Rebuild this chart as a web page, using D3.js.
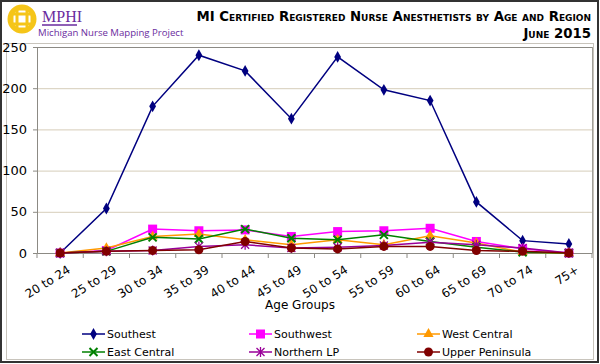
<!DOCTYPE html>
<html><head><meta charset="utf-8">
<script src="https://cdn.jsdelivr.net/npm/d3@7"></script>
<style>
body{margin:0;background:#fff;}
svg{display:block;font-family:Verdana,"DejaVu Sans",sans-serif;}
</style></head>
<body><svg id="c" width="600" height="364"></svg>
<script>
const categories = ["20 to 24","25 to 29","30 to 34","35 to 39","40 to 44","45 to 49","50 to 54","55 to 59","60 to 64","65 to 69","70 to 74","75+"];
const southest = [0,54,178,240,221,163,238,198,185,62,15,11];
const southwest = [0,3,29,27,28,20,26,27,30,14,5,0];
const westCentral = [0,6,20,23,16,10,16,10,21,12,1,0];
const eastCentral = [0,2,19,17,29,18,16,22,14,7,1,0];
const northernLP = [0,2,3,8,10,6,7,9,13,10,6,0];
const upperPeninsula = [0,2,3,4,14,6,5,8,8,3,2,0];
const yTicks = [0,50,100,150,200,250];
const seriesNames = ["Southest","Southwest","West Central","East Central","Northern LP","Upper Peninsula"];

const series = [
  {name:seriesNames[0], values:southest, color:"#000080", sym:"diamond"},
  {name:seriesNames[1], values:southwest, color:"#ff00ff", sym:"square"},
  {name:seriesNames[2], values:westCentral, color:"#ff9900", sym:"triangle"},
  {name:seriesNames[3], values:eastCentral, color:"#008000", sym:"x"},
  {name:seriesNames[4], values:northernLP, color:"#990099", sym:"star"},
  {name:seriesNames[5], values:upperPeninsula, color:"#800000", sym:"circle"}
];

const svg = d3.select("#c");
svg.append("rect").attr("x",1).attr("y",1).attr("width",597).attr("height",361)
  .attr("fill","#fff").attr("stroke","#333").attr("stroke-width",2);
svg.append("rect").attr("x",6.5).attr("y",43.5).attr("width",587).attr("height",316)
  .attr("fill","none").attr("stroke","#c8c4bc").attr("stroke-width",1);

// logo
const logo = svg.append("g");
logo.append("circle").attr("cx",22).attr("cy",19).attr("r",12).attr("fill","none").attr("stroke","#f5c518").attr("stroke-width",5);
logo.append("rect").attr("x",17).attr("y",9).attr("width",10).attr("height",20).attr("fill","none").attr("stroke","#f5c518").attr("stroke-width",3);
logo.append("rect").attr("x",12).attr("y",14).attr("width",20).attr("height",10).attr("fill","none").attr("stroke","#f5c518").attr("stroke-width",3);
logo.append("text").attr("x",42).attr("y",22).text("MPHI")
  .attr("font-family","'Liberation Serif',serif").attr("font-size",16).attr("fill","#6a2b9e");
logo.append("line").attr("x1",42).attr("x2",77).attr("y1",25).attr("y2",25).attr("stroke","#6a2b9e").attr("stroke-width",1.5);
logo.append("text").attr("x",38).attr("y",36).text("Michigan Nurse Mapping Project")
  .attr("font-family","'Open Sans',sans-serif").attr("font-size",9.6).attr("fill","#6a2b9e");

// title
const tf = "Verdana,'DejaVu Sans',sans-serif";
svg.append("text").attr("x",591).attr("y",21).attr("text-anchor","end")
  .attr("font-size",13.3).attr("font-weight","bold").style("font-variant","small-caps")
  .attr("font-family",tf).attr("fill","#000")
  .text("MI Certified Registered Nurse Anesthetists by Age and Region");
svg.append("text").attr("x",591).attr("y",38).attr("text-anchor","end")
  .attr("font-size",13.3).attr("font-weight","bold").style("font-variant","small-caps")
  .attr("font-family",tf).attr("fill","#000")
  .text("June 2015");

const L=37, R=592, T=47, B=253;
const x = d3.scaleBand().domain(categories).range([L,R]);
const y = d3.scaleLinear().domain([0,250]).range([B,T]);

svg.append("g").selectAll("line").data(yTicks.filter(d=>d>0)).join("line")
  .attr("x1",L).attr("x2",R).attr("y1",d=>y(d)+0.5).attr("y2",d=>y(d)+0.5)
  .attr("stroke","#d6cdb9").attr("stroke-width",1);
svg.append("line").attr("x1",L).attr("x2",R).attr("y1",T+0.5).attr("y2",T+0.5).attr("stroke","#8c8a84");
svg.append("line").attr("x1",R+0.5).attr("x2",R+0.5).attr("y1",T).attr("y2",B).attr("stroke","#a09e98");

const yAxis = svg.append("g").attr("transform",`translate(${L},0)`)
  .call(d3.axisLeft(y).tickValues(yTicks).tickSize(4).tickPadding(6));
yAxis.select(".domain").attr("stroke","#8c8a84");
yAxis.selectAll(".tick line").attr("stroke","#8c8a84");
yAxis.selectAll("text").attr("font-size",13).attr("fill","#000").attr("font-family",tf);

const xAxis = svg.append("g").attr("transform",`translate(0,${B})`)
  .call(d3.axisBottom(x).tickSize(0).tickPadding(0));
xAxis.select(".domain").attr("stroke","#8c8a84");
xAxis.selectAll(".tick text").attr("font-size",12).attr("fill","#000")
  .attr("font-family",tf)
  .attr("text-anchor","end").attr("dy",0)
  .attr("transform","translate(11,19) rotate(-32)");
svg.append("g").selectAll("line").data(d3.range(categories.length+1)).join("line")
  .attr("x1",i=>L+i*x.step()).attr("x2",i=>L+i*x.step()).attr("y1",B).attr("y2",B+5)
  .attr("stroke","#8c8a84");

svg.append("text").attr("x",300).attr("y",309).attr("text-anchor","middle")
  .attr("font-size",12).attr("font-family",tf).text("Age Groups");

const cx = c => x(c)+x.bandwidth()/2;
function marker(g, sym, color, px, py){
  if(sym==="diamond"){
    g.append("path").attr("d",d3.symbol(d3.symbolDiamond,40)()).attr("transform",`translate(${px},${py})`).attr("fill",color);
  } else if(sym==="square"){
    g.append("rect").attr("x",px-4.5).attr("y",py-4.5).attr("width",9).attr("height",9).attr("fill",color);
  } else if(sym==="triangle"){
    g.append("path").attr("d",d3.symbol(d3.symbolTriangle,45)()).attr("transform",`translate(${px},${py})`).attr("fill",color);
  } else if(sym==="x"){
    g.append("path").attr("d",`M${px-4},${py-4}L${px+4},${py+4}M${px-4},${py+4}L${px+4},${py-4}`).attr("stroke",color).attr("stroke-width",2);
  } else if(sym==="star"){
    g.append("path").attr("d",`M${px-4},${py-4}L${px+4},${py+4}M${px-4},${py+4}L${px+4},${py-4}M${px},${py-5}L${px},${py+5}`).attr("stroke",color).attr("stroke-width",1.3);
  } else {
    g.append("circle").attr("cx",px).attr("cy",py).attr("r",4.5).attr("fill",color);
  }
}

const line = d3.line().x((d,i)=>cx(categories[i])).y(d=>y(d));
series.forEach(s=>{
  const g = svg.append("g");
  g.append("path").attr("d",line(s.values)).attr("fill","none").attr("stroke",s.color).attr("stroke-width",1.5);
  s.values.forEach((v,i)=>marker(g,s.sym,s.color,cx(categories[i]),y(v)));
});

const legX = [82,249,417], legY=[334,352];
series.forEach((s,i)=>{
  const lx = legX[i%3], ly = legY[Math.floor(i/3)];
  const g = svg.append("g");
  g.append("line").attr("x1",lx).attr("x2",lx+23).attr("y1",ly).attr("y2",ly).attr("stroke",s.color).attr("stroke-width",1.5);
  marker(g,s.sym,s.color,lx+11.5,ly);
  g.append("text").attr("x",lx+25).attr("y",ly+4).attr("font-size",11)
    .attr("font-family",tf).text(s.name);
});
</script></body></html>
